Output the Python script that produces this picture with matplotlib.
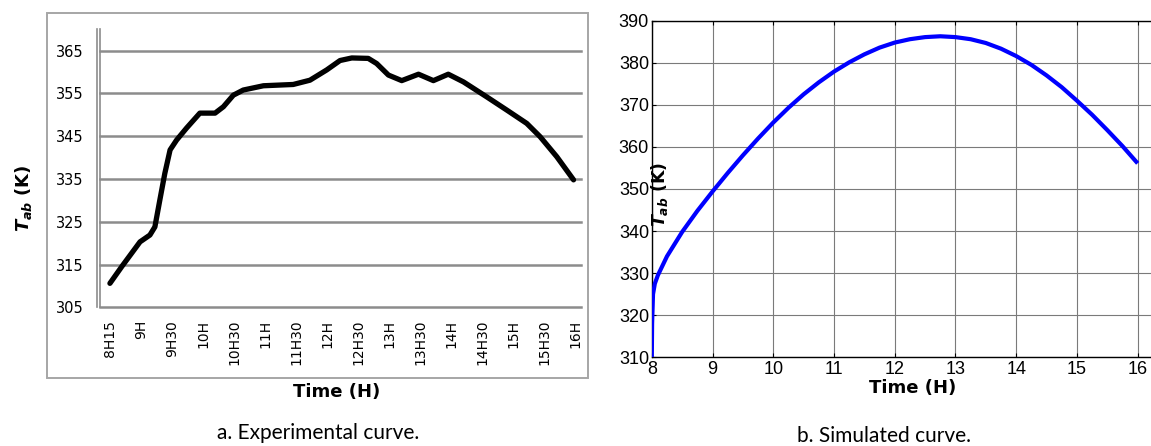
import matplotlib
matplotlib.use("Agg")
import matplotlib.pyplot as plt
from matplotlib.patches import Rectangle
from matplotlib.lines import Line2D

plt.rcParams['mathtext.fontset'] = 'custom'
plt.rcParams['mathtext.it'] = 'DejaVu Sans:italic:bold'
plt.rcParams['mathtext.rm'] = 'DejaVu Sans:bold'
plt.rcParams['mathtext.bf'] = 'DejaVu Sans:bold'

# ---------------- data ----------------
# (a) experimental: category labels and curve (position in category units, value K)
exp_labels = ['8H15', '9H', '9H30', '10H', '10H30', '11H', '11H30', '12H', '12H30',
              '13H', '13H30', '14H', '14H30', '15H', '15H30', '16H']
exp_pos = [0.0, 0.38, 0.97, 1.29, 1.45, 1.61, 1.77, 1.94, 2.15, 2.47, 2.90, 3.39, 3.66,
           3.98, 4.30, 4.95, 5.91, 6.45, 6.99, 7.42, 7.80, 8.33, 8.60, 8.98, 9.41, 9.95,
           10.43, 10.91, 11.40, 12.15, 12.80, 13.44, 13.87, 14.41, 14.95]
exp_val = [310.6, 314.5, 320.3, 321.9, 323.8, 330.1, 336.3, 341.8, 344.1, 346.9, 350.4,
           350.4, 351.9, 354.6, 355.8, 356.8, 357.1, 358.1, 360.5, 362.7, 363.3, 363.2,
           362.0, 359.3, 358.0, 359.5, 358.0, 359.5, 357.7, 354.2, 351.1, 348.0, 344.9,
           340.2, 334.8]
exp_yticks = [305, 315, 325, 335, 345, 355, 365]

# (b) simulated
sim_t = [8.0, 8.005, 8.02, 8.05, 8.1, 8.25, 8.5, 8.75, 9.0, 9.25, 9.5, 9.75, 10.0, 10.25,
         10.5, 10.75, 11.0, 11.25, 11.5, 11.75, 12.0, 12.25, 12.5, 12.75, 13.0, 13.25,
         13.5, 13.75, 14.0, 14.25, 14.5, 14.75, 15.0, 15.25, 15.5, 15.75, 16.0]
sim_val = [310.0, 318.0, 325.0, 327.5, 329.5, 334.0, 339.8, 344.8, 349.4, 353.8, 358.0,
           362.0, 365.8, 369.3, 372.5, 375.35, 377.9, 380.1, 382.0, 383.6, 384.8, 385.6,
           386.1, 386.3, 386.1, 385.6, 384.7, 383.35, 381.6, 379.5, 377.0, 374.2, 371.0,
           367.65, 364.0, 360.2, 356.1]
sim_xticks = [8, 9, 10, 11, 12, 13, 14, 15, 16]
sim_yticks = [310, 320, 330, 340, 350, 360, 370, 380, 390]

W, H = 1151, 446
fig = plt.figure(figsize=(W / 100, H / 100), dpi=100)

def fx(px):
    return px / W

def fy(py):
    return 1 - py / H

# ---------------- left panel (Excel style) ----------------
grey = '#8c8c8c'
fig.patches.append(Rectangle((fx(47.3), fy(378)), fx(588.3 - 47.3), (378 - 12.7) / H,
                             transform=fig.transFigure, fill=False,
                             edgecolor='#a6a6a6', lw=1.4, zorder=0))

ax1 = fig.add_axes([fx(100), fy(307.3), fx(481), 278 / H])
ax1.set_xlim(-0.32, 15.19)
ax1.set_ylim(305, 370)
ax1.set_yticks(exp_yticks)
ax1.set_xticks(range(len(exp_labels)))
ax1.set_xticklabels(exp_labels, rotation=90, fontsize=10, family='DejaVu Sans')
for lab in ax1.get_yticklabels():
    lab.set_fontsize(10.5)
ax1.tick_params(axis='both', length=0)
ax1.tick_params(axis='y', pad=12)
ax1.tick_params(axis='x', pad=9)
for y in exp_yticks:
    ax1.axhline(y, color=grey, lw=1.8, zorder=1, clip_on=False)
for s in ['top', 'right', 'bottom']:
    ax1.spines[s].set_visible(False)
ax1.spines['left'].set_color(grey)
ax1.spines['left'].set_linewidth(1.2)
ax1.add_line(Line2D([-3.4 / 481, -3.4 / 481], [0, 1], transform=ax1.transAxes,
                    color=grey, lw=1.2, clip_on=False))
ax1.plot(exp_pos, exp_val, color='black', lw=3.8, solid_joinstyle='round',
         solid_capstyle='round', zorder=3)

fig.text(fx(24), fy(198), r'$T_{ab}$ (K)', rotation=90, ha='center', va='center',
         fontsize=13, fontweight='bold', family='DejaVu Sans')
fig.text(fx(337), fy(392), 'Time (H)', ha='center', va='center', fontsize=13,
         fontweight='bold', family='DejaVu Sans')
fig.text(fx(318), fy(433), 'a. Experimental curve.', ha='center', va='center',
         fontsize=15, family='Lato')

# ---------------- right panel (MATLAB style) ----------------
ax2 = fig.add_axes([fx(651.8), fy(357.3), 1 - fx(651.8), 336.6 / H])
ax2.set_xlim(8, 16.22)
ax2.set_ylim(310, 390)
ax2.set_xticks(sim_xticks)
ax2.set_yticks(sim_yticks)
ax2.grid(True, color='#7a7a7a', lw=0.8)
ax2.set_axisbelow(True)
ax2.tick_params(direction='in', length=3, top=True, right=False, pad=3,
                labelsize=13)
for lab in ax2.get_xticklabels() + ax2.get_yticklabels():
    lab.set_family('Liberation Sans')
ax2.tick_params(axis='y', pad=2)
ax2.spines['right'].set_visible(False)
for s in ['top', 'left', 'bottom']:
    ax2.spines[s].set_linewidth(1.0)
ax2.plot(sim_t, sim_val, color='#0000ff', lw=3.0, solid_joinstyle='round',
         solid_capstyle='butt', zorder=3)

fig.text(fx(659), fy(194), r'$T_{ab}$ (K)', rotation=90, ha='center', va='center',
         fontsize=12.5, fontweight='bold', family='DejaVu Sans')
fig.text(fx(913), fy(388), 'Time (H)', ha='center', va='center', fontsize=13,
         fontweight='bold', family='DejaVu Sans')
fig.text(fx(884), fy(436), 'b. Simulated curve.', ha='center', va='center',
         fontsize=15, family='Lato')

fig.savefig('out.png', dpi=100)
